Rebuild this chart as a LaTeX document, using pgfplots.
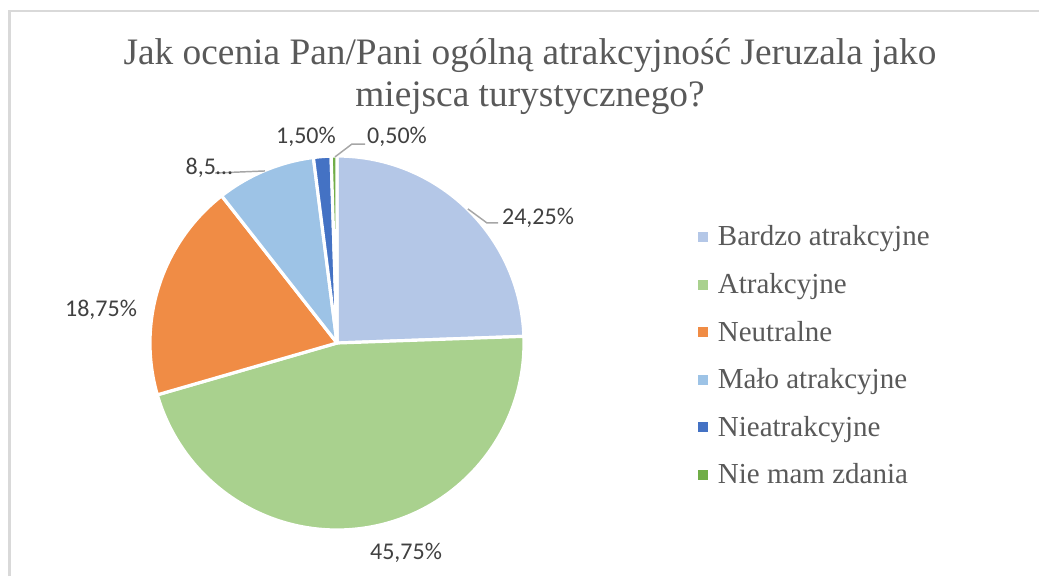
\documentclass[border=0pt]{standalone}
\usepackage{fontspec}
\setmainfont{Liberation Serif}
\newfontfamily\calib{Carlito}
\usepackage{pgfplots}
\usepackage{pgfplotstable}
\pgfplotsset{compat=1.18}
\definecolor{c1}{HTML}{B4C7E7}
\definecolor{c2}{HTML}{A9D18E}
\definecolor{c3}{HTML}{F08C45}
\definecolor{c4}{HTML}{9DC3E6}
\definecolor{c5}{HTML}{4472C4}
\definecolor{c6}{HTML}{70AD47}
\definecolor{tgray}{HTML}{595959}
\definecolor{lgray}{HTML}{404040}
\definecolor{leader}{HTML}{A6A6A6}
\definecolor{bord}{HTML}{D9D9D9}

\pgfplotstableread[col sep=comma]{
label,value,col
Bardzo atrakcyjne,24.25,c1
Atrakcyjne,45.75,c2
Neutralne,18.75,c3
Mało atrakcyjne,8.5,c4
Nieatrakcyjne,1.5,c5
Nie mam zdania,0.5,c6
}\piedata

\begin{document}
\begin{tikzpicture}[x=0.75pt,y=0.75pt]
\useasboundingbox (0,0) rectangle (1039,576);
\draw[line width=1.6pt, color=bord] (9.5,0) -- (9.5,565) -- (1039,565);
\node[font=\fontsize{28}{32}\selectfont, text=tgray, anchor=base, inner sep=0pt] at (530,511) {Jak ocenia Pan/Pani ogólną atrakcyjność Jeruzala jako};
\node[font=\fontsize{28}{32}\selectfont, text=tgray, anchor=base, inner sep=0pt] at (530,469) {miejsca turystycznego?};
\begin{axis}[
  at={(252.75pt,174.75pt)}, anchor=center,
  scale only axis, width=280.5pt, height=280.5pt,
  xmin=-1, xmax=1, ymin=-1, ymax=1,
  hide axis, clip=false,
  legend image code/.code={\path[#1] (0pt,-3.75pt) rectangle (7.5pt,3.75pt);},
  legend cell align=left,
  legend style={draw=none, fill=none, text=tgray,
    font=\fontsize{21.75}{26}\selectfont,
    at={(1.465,0.847)}, anchor=north west,
    inner sep=0pt, outer sep=0pt, row sep=0pt,
    nodes={inner sep=0pt, text height=24.5pt, text depth=11.2pt},
    /tikz/every odd column/.append style={column sep=7.5pt}},
]
% pie slices computed from the table values
\pgfplotstablegetrowsof{\piedata}
\pgfmathtruncatemacro\nrows{\pgfplotsretval-1}
\def\total{0}
\pgfplotsforeachungrouped \i in {0,...,\nrows}{%
  \pgfplotstablegetelem{\i}{value}\of\piedata
  \pgfmathsetmacro\total{\total+\pgfplotsretval}%
}
\def\cum{0}
\pgfplotsforeachungrouped \i in {0,...,\nrows}{%
  \pgfplotstablegetelem{\i}{value}\of\piedata
  \let\v\pgfplotsretval
  \pgfplotstablegetelem{\i}{col}\of\piedata
  \let\c\pgfplotsretval
  \pgfmathsetmacro\sa{90-\cum/\total*360}%
  \pgfmathsetmacro\cum{\cum+\v}%
  \pgfmathsetmacro\ea{90-\cum/\total*360}%
  \edef\doit{\noexpand\fill[fill=\c, draw=white, line width=2.4pt, line join=round] (axis cs:0,0) -- ++(\sa:140.25pt) arc[start angle=\sa, end angle=\ea, radius=140.25pt] -- cycle;}%
  \doit
}
% leader lines
\draw[leader, line width=1.1pt] (axis cs:0.700,0.717) -- (axis cs:0.802,0.642) -- (axis cs:0.861,0.642);
\draw[leader, line width=1.1pt] (axis cs:-0.652,0.909) -- (axis cs:-0.385,0.920);
\draw[leader, line width=1.1pt] (axis cs:-0.011,0.995) -- (axis cs:0.080,1.064) -- (axis cs:0.150,1.064);
% data labels
\begin{scope}[every node/.style={font=\calib\fontsize{18}{21}\selectfont, text=lgray, inner sep=0pt}]
\node at (axis cs:1.075,0.668) {24,25\%};
\node at (axis cs:0.369,-1.123) {45,75\%};
\node at (axis cs:-1.262,0.176) {18,75\%};
\node at (axis cs:-0.684,0.936) {8,5…};
\node at (axis cs:-0.166,1.102) {1,50\%};
\node at (axis cs:0.321,1.102) {0,50\%};
\end{scope}
\addlegendimage{fill=c1, draw=none}
\addlegendimage{fill=c2, draw=none}
\addlegendimage{fill=c3, draw=none}
\addlegendimage{fill=c4, draw=none}
\addlegendimage{fill=c5, draw=none}
\addlegendimage{fill=c6, draw=none}
\legend{Bardzo atrakcyjne, Atrakcyjne, Neutralne, Mało atrakcyjne, Nieatrakcyjne, Nie mam zdania}
\end{axis}
\end{tikzpicture}
\end{document}
